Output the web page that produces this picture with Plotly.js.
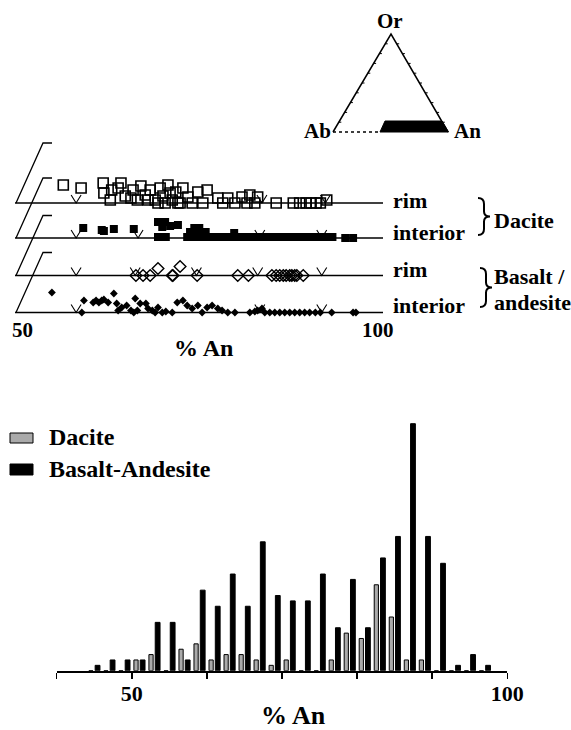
<!DOCTYPE html>
<html><head><meta charset="utf-8">
<script src="https://cdn.plot.ly/plotly-3.0.1.min.js"></script>
<style>html,body{margin:0;padding:0;background:#fff}#chart{width:571px;height:730px}</style>
</head><body><div id="chart"></div>
<script>
// ---------- Histogram data (% An bins, counts) ----------
const binCenters = [45,47,49,51,53,55,57,59,61,63,65,67,69,71,73,75,77,79,81,83,85,87,89,91,93,95,97];
const daciteCounts = [0,0,0,2,3,0,4,5,2,3,3,2,1,2,0,0,2,7,6,16,10,2,2,0,0,0,0];
const basaltAndesiteCounts = [1,2,2,2,9,9,2,15,12,18,12,24,14,13,13,18,8,17,8,21,25,46,25,20,1,3,1];
const histTickVals = [40,50,60,70,80,90,100];
const histTickText = ['','50','','','','','100'];

// ---------- Profile data (% An, stack lift above line) ----------
const rimDaciteAn = [55.8,58.3,61.4,61.5,62.4,62.6,63.5,63.9,64.5,65.3,65.6,66.2,66.7,67.3,67.7,68.0,68.7,69.1,69.4,69.8,70.1,70.5,70.8,71.1,71.6,71.9,72.2,72.6,73.3,73.9,74.7,75.4,76.0,77.5,78.2,78.9,79.9,80.9,81.6,82.0,82.7,83.1,85.7,88.1,89.0,89.9,90.6,91.3,91.9,92.8];
const rimDaciteLift = [18,15,20,10,3,13,15,20,7,5,13,3,17,8,3,13,3,0,15,7,0,18,10,3,11,0,0,15,6,0,11,0,13,5,0,5,0,6,0,8,0,6,0,0,0,0,0,0,0,3];
const intDaciteAn = [58.6,61.2,61.5,62.9,65.7,69.1,69.7,70.1,70.8,71.9,69.1,70.2,73.6,74.2,74.4,74.9,75.2,75.8,79.8,73.2,73.7,74.5,75.4,76.1,77.0,77.9,78.6,79.3,80.2,81.1,81.8,82.6,83.5,84.3,85.0,85.9,86.6,87.4,88.3,89.0,89.8,90.7,91.4,92.2,93.0,93.6,95.4,96.5];
const intDaciteLift = [10,8,7,9,9,16,11,16,12,13,1,1,6,10,6,10,6,6,5,1,1,1,1,1,1,1,1,1,1,1,1,1,1,1,1,1,1,1,1,1,1,1,1,1,1,1,0,0];
const rimBasaltAn = [66.0,67.0,68.0,69.1,71.1,71.2,72.2,74.6,80.3,81.8,85.1,85.7,86.2,86.7,87.1,87.6,87.9,88.3,88.6,89.5];
const rimBasaltLift = [0,0,0,7,0,0,9,0,0,0,0,0,0,0,0,0,0,0,0,0];
const intBasaltAn = [54.2,58.7,58.4,60.0,60.4,60.8,61.2,61.5,62.1,62.9,63.3,63.5,64.0,64.7,65.3,65.7,65.9,66.2,66.6,67.4,67.7,68.3,68.7,69.1,69.7,70.2,71.1,71.8,72.6,73.2,73.9,74.7,75.3,76.0,76.7,77.5,78.1,78.9,79.9,82.0,82.7,83.1,83.7,84.1,84.8,85.5,86.2,86.9,87.6,88.3,89.0,89.7,90.4,91.2,91.9,93.5,96.5,96.9];
const intBasaltLift = [20,12,0,10,12,10,12,13,10,19,9,2,5,7,2,0,14,2,9,9,4,2,0,5,0,1,0,10,12,7,4,7,0,5,7,4,2,0,0,0,1,2,4,0,0,0,0,0,0,0,0,0,0,0,0,0,0,0];
const rimDaciteV = [57.6,83.7,92.6];
const intDaciteV = [57.6,66.3,83.4,92.1];
const rimBasaltV = [57.6,65.9,74.5,83.1,92.1];
const intBasaltV = [57.6,83.4,92.1];

// ---------- layout helpers ----------
const W = 571, H = 730;
const px = x => x / W;
const py = y => 1 - y / H;
const FONT = 'Liberation Serif';
// row baselines in y2 units (1 unit = 1 px, 0 at px 320)
const ROW = {rimD: 117, intD: 82, rimB: 44.5, intB: 7.5};

const traces = [];
traces.push({type:'bar', x: binCenters, y: daciteCounts, xaxis:'x', yaxis:'y',
  width: 0.56, offset: -0.72, marker:{color:'#aaaaaa', line:{color:'#000', width:1}}, hoverinfo:'skip'});
traces.push({type:'bar', x: binCenters, y: basaltAndesiteCounts, xaxis:'x', yaxis:'y',
  width: 0.64, offset: 0.12, marker:{color:'#000', line:{color:'#000', width:1}}, hoverinfo:'skip'});

function pts(an, lift, base, symbol, size, lw) {
  return {type:'scatter', mode:'markers', x: an, y: lift.map(l => base + l), xaxis:'x2', yaxis:'y2',
    marker:{symbol: symbol, size: size, color:'#000', line:{color:'#000', width: lw}}, hoverinfo:'skip'};
}
traces.push(pts(rimDaciteAn, rimDaciteLift, ROW.rimD, 'square-open', 10, 1.6));
traces.push(pts(intDaciteAn, intDaciteLift, ROW.intD, 'square', 8, 0));
traces.push(pts(rimBasaltAn, rimBasaltLift, ROW.rimB, 'diamond-open', 9, 1.4));
traces.push(pts(intBasaltAn, intBasaltLift, ROW.intB, 'diamond', 6, 0));

function vTrace(vals, base) {
  const xs = [], ys = [];
  vals.forEach(v => { xs.push(v - 0.7, v, v + 0.7, null); ys.push(base + 8, base, base + 8, null); });
  return {type:'scatter', mode:'lines', x: xs, y: ys, xaxis:'x2', yaxis:'y2',
    line:{color:'#000', width:1.1}, hoverinfo:'skip', connectgaps:false};
}
traces.push(vTrace(rimDaciteV, ROW.rimD));
traces.push(vTrace(intDaciteV, ROW.intD));
traces.push(vTrace(rimBasaltV, ROW.rimB));
traces.push(vTrace(intBasaltV, ROW.intB));

const shapes = [];
const X2MIN = 49.017, X2MAX = 100.702;
Object.values(ROW).forEach(b => {
  shapes.push({type:'line', xref:'x2', yref:'y2', x0: X2MIN, x1: X2MAX, y0: b, y1: b, line:{color:'#000', width:1.3}, layer:'below'});
  const pb = 320 - b;
  shapes.push({type:'path', xref:'paper', yref:'paper',
    path: `M ${px(16)},${py(pb)} L ${px(43)},${py(pb-60)} L ${px(52)},${py(pb-60)}`,
    line:{color:'#000', width:1.3}});
});
function bracePath(x0, y0, y1, xm) {
  const ym = (y0 + y1) / 2, xc = (x0 + xm) / 2;
  const P = (x, y) => `${px(x)},${py(y)}`;
  return `M ${P(x0,y0)} Q ${P(xc,y0)} ${P(xc,y0+6)} L ${P(xc,ym-5)} Q ${P(xc,ym)} ${P(xm,ym)} ` +
         `Q ${P(xc,ym)} ${P(xc,ym+5)} L ${P(xc,y1-6)} Q ${P(xc,y1)} ${P(x0,y1)}`;
}
shapes.push({type:'path', xref:'paper', yref:'paper', path: bracePath(478,198,235,490), line:{color:'#000', width:2}});
shapes.push({type:'path', xref:'paper', yref:'paper', path: bracePath(480,268,307,492), line:{color:'#000', width:2}});

// ternary sketch
const P = (x, y) => `${px(x)},${py(y)}`;
const AB = [333,132], OR = [391,34], AN = [448,132];
shapes.push({type:'path', xref:'paper', yref:'paper', path:`M ${P(...AB)} L ${P(...OR)} L ${P(...AN)}`, line:{color:'#000', width:1.5}});
shapes.push({type:'line', xref:'paper', yref:'paper', x0:px(333), x1:px(381), y0:py(132), y1:py(132), line:{color:'#000', width:1.5, dash:'dot'}});
shapes.push({type:'path', xref:'paper', yref:'paper', path:`M ${P(380,132)} L ${P(385,121)} L ${P(442,121)} L ${P(448.5,132)} Z`, fillcolor:'#000', line:{color:'#000', width:1}});
// small edge ticks on the triangle (every tenth)
let tickPath = '';
for (let i = 1; i < 10; i++) {
  const t = i / 10;
  const lx = AB[0] + (OR[0]-AB[0])*t, ly = AB[1] + (OR[1]-AB[1])*t;
  const rx = AN[0] + (OR[0]-AN[0])*t, ry = AN[1] + (OR[1]-AN[1])*t;
  tickPath += `M ${P(lx,ly)} L ${P(lx+2.5,ly)} M ${P(rx,ry)} L ${P(rx+2.5,ry)} `;
}
shapes.push({type:'path', xref:'paper', yref:'paper', path: tickPath, line:{color:'#000', width:1}});

// legend boxes
shapes.push({type:'rect', xref:'paper', yref:'paper', x0:px(10), x1:px(33), y0:py(443), y1:py(433), fillcolor:'#aaaaaa', line:{color:'#000', width:1}});
shapes.push({type:'rect', xref:'paper', yref:'paper', x0:px(10), x1:px(33), y0:py(475), y1:py(464), fillcolor:'#000', line:{color:'#000', width:1}});

function ann(text, x, y, size, xanchor) {
  return {text:'<b>'+text+'</b>', x:px(x), y:py(y), xref:'paper', yref:'paper', showarrow:false,
    xanchor: xanchor || 'center', yanchor:'middle', font:{family:FONT, size:size, color:'#000'}};
}
const annotations = [
  ann('Or', 390, 21, 21), ann('Ab', 317, 131, 21), ann('An', 467, 131, 21),
  ann('rim', 391, 200, 22, 'left'), ann('interior', 391, 232, 22, 'left'),
  ann('rim', 391, 269, 22, 'left'), ann('interior', 391, 306, 22, 'left'),
  ann('Dacite', 492, 220, 22, 'left'), ann('Basalt /', 492, 276, 22, 'left'), ann('andesite', 492, 302, 22, 'left'),
  ann('50', 22, 330, 21), ann('100', 378, 330, 21), ann('% An', 203, 348, 24),
  ann('Dacite', 47, 437, 24, 'left'), ann('Basalt-Andesite', 47, 469, 24, 'left'),
  ann('% An', 293, 715, 26)
];

const layout = {
  width: W, height: H, margin:{l:0, r:0, t:0, b:0}, paper_bgcolor:'#fff', plot_bgcolor:'rgba(0,0,0,0)',
  showlegend:false, barmode:'overlay',
  font:{family:FONT},
  xaxis:{domain:[56.7/W, 507.3/W], range:[40,100], anchor:'y', showline:true, linecolor:'#000', linewidth:2.5,
    ticks:'outside', ticklen:6, tickwidth:1.5, tickcolor:'#000', tickvals: histTickVals, ticktext: histTickText,
    ticklabelstandoff: -5,
    tickfont:{family:FONT, size:22, color:'#000', weight:'bold'}, showgrid:false, zeroline:false, fixedrange:true},
  yaxis:{domain:[1-670.7/H, 1-402.2/H], range:[0,50], anchor:'x', visible:false, fixedrange:true},
  xaxis2:{domain:[15/W, 383/W], range:[X2MIN, X2MAX], anchor:'y2', visible:false, fixedrange:true},
  yaxis2:{domain:[1-320/H, 1-140/H], range:[0,180], anchor:'x2', visible:false, fixedrange:true},
  shapes: shapes, annotations: annotations
};
Plotly.newPlot('chart', traces, layout, {staticPlot:true, displayModeBar:false});
</script></body></html>
